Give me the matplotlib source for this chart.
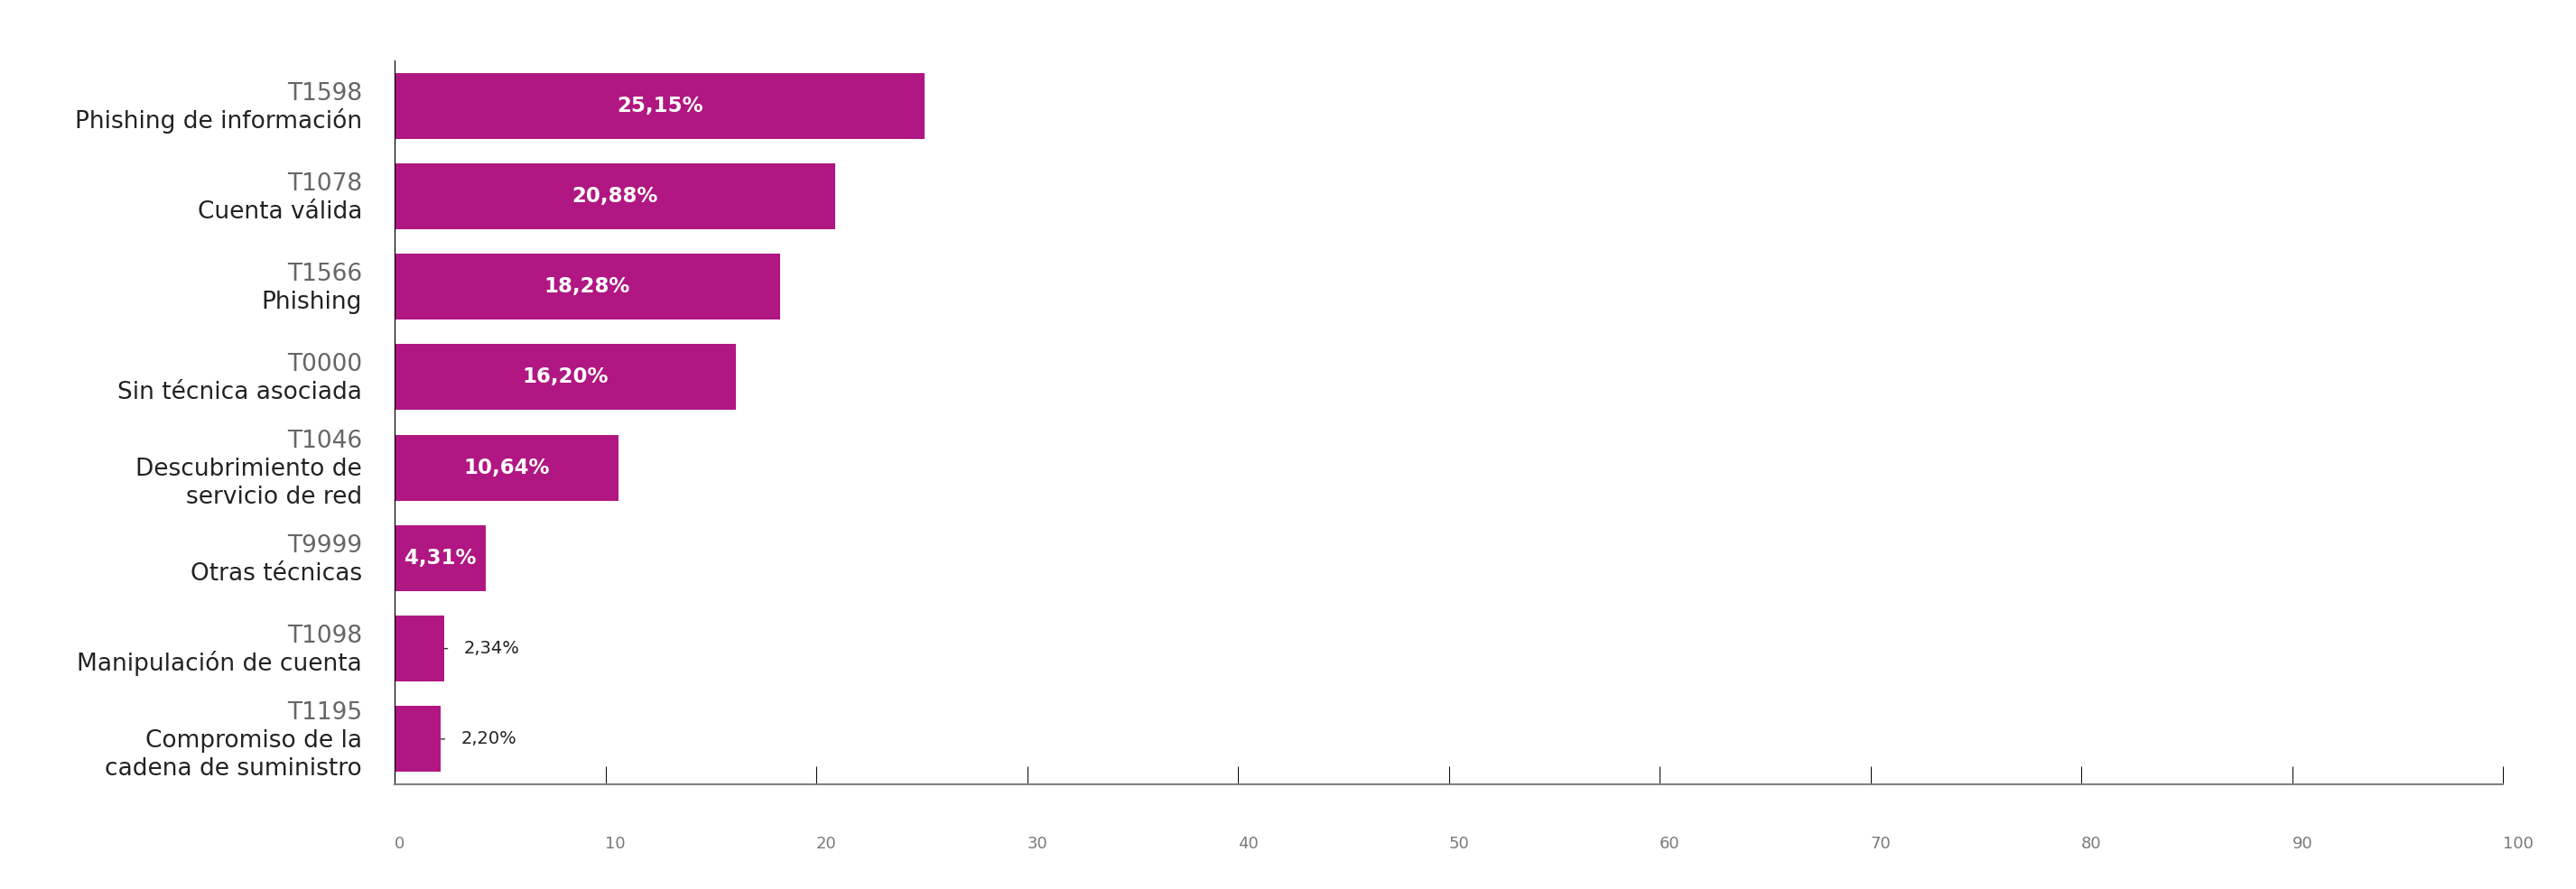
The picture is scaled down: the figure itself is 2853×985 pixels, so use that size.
import matplotlib
matplotlib.use("Agg")
import matplotlib.pyplot as plt
from matplotlib.transforms import blended_transform_factory, offset_copy

codes = ["T1598", "T1078", "T1566", "T0000", "T1046", "T9999", "T1098", "T1195"]
names = ["Phishing de información", "Cuenta válida", "Phishing", "Sin técnica asociada",
         "Descubrimiento de\nservicio de red", "Otras técnicas", "Manipulación de cuenta",
         "Compromiso de la\ncadena de suministro"]
values = [25.15, 20.88, 18.28, 16.20, 10.64, 4.31, 2.34, 2.20]
xticks = [0, 10, 20, 30, 40, 50, 60, 70, 80, 90, 100]

FONT = "DejaVu Sans"
BAR = "#B01782"
plt.rcParams["font.family"] = [FONT]

W, H = 2853, 985
fig = plt.figure(figsize=(W / 100, H / 100), dpi=100)
ax = fig.add_axes([437 / W, 1 - 869 / H, (2772 - 437) / W, (869 - 67) / H])

ypos = list(range(len(values)))
ax.barh(ypos, values, height=0.73, color=BAR, edgecolor="none")
ax.set_xlim(0, 100)
ax.set_ylim(7.5, -0.5)

for s in ["top", "right"]:
    ax.spines[s].set_visible(False)
ax.spines["left"].set_color("black")
ax.spines["left"].set_linewidth(0.9)
ax.spines["bottom"].set_color("#808080")
ax.spines["bottom"].set_linewidth(1.5)

ax.set_yticks([])
ax.set_xticks(xticks)
ax.set_xticklabels([str(t) for t in xticks], ha="left")
ax.tick_params(axis="x", direction="in", length=14.4, width=0.7, color="black",
               pad=41, labelsize=13, labelcolor="#7a7a7a")

# category labels
line_h = 31
trans_lab = blended_transform_factory(ax.transAxes, ax.transData)
for i, (c, nm) in enumerate(zip(codes, names)):
    lines = [c] + nm.split("\n")
    n = len(lines)
    for k, ln in enumerate(lines):
        dy = -((k - (n - 1) / 2) * line_h + 9)
        tr = offset_copy(trans_lab, fig=fig, x=-36 * 0.72, y=dy * 0.72, units="points")
        if k == 0:
            ax.text(0, i, ln, transform=tr, ha="right", va="baseline", fontsize=19,
                    color="#666666")
        else:
            ax.text(0, i, ln, transform=tr, ha="right", va="baseline", fontsize=19,
                    color="#222222")

# value labels
for i, v in enumerate(values):
    lab = f"{v:.2f}".replace(".", ",") + "%"
    if v >= 4:
        ax.text(v / 2, i, lab, ha="center", va="center", fontsize=16.5,
                color="white", fontweight="bold")
    else:
        ax.annotate("", xy=(v, i), xytext=(4, 0), textcoords="offset pixels",
                    arrowprops=dict(arrowstyle="-", color="#333333", lw=1.0,
                                    shrinkA=0, shrinkB=0))
        ax.annotate(lab, xy=(v, i), xytext=(22, 0), textcoords="offset pixels",
                    ha="left", va="center", fontsize=14, color="#222222")

fig.savefig("out.png", dpi=100, facecolor="white")
